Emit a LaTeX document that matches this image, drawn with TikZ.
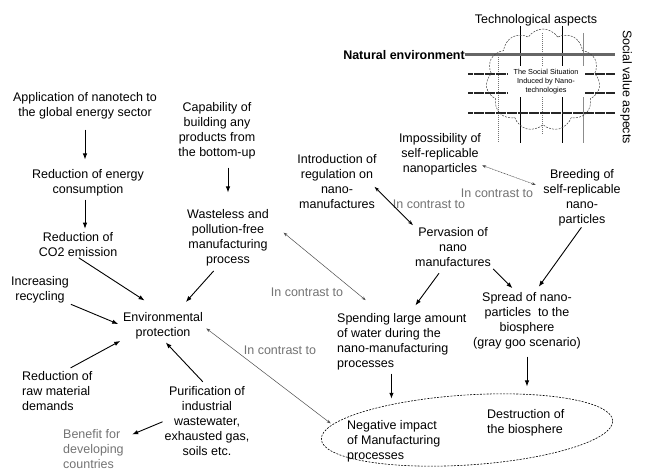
\documentclass[tikz,border=0pt]{standalone}
\usepackage{fontspec}
\setmainfont{Liberation Sans}
\usetikzlibrary{arrows.meta,shapes.symbols,shapes.geometric}

\begin{document}
\begin{tikzpicture}[x=1pt,y=-1pt,
  txt/.style={font=\fontsize{12.5}{15}\selectfont, align=center, inner sep=0pt},
  ltxt/.style={txt, align=left},
  note/.style={txt, text=black!55},
  tiny/.style={font=\fontsize{7.3}{9}\selectfont, align=center, inner sep=0pt},
  arr/.style={-{Latex[length=6pt,width=4.5pt]}, line width=0.9pt},
  cmp/.style={{Stealth[length=4pt,width=3pt]}-{Stealth[length=4pt,width=3pt]}, line width=0.5pt, draw=black!70},
  cmpdot/.style={cmp, dash pattern=on 1pt off 0.6pt},
  cmpsolid/.style={{Stealth[length=5pt,width=3.5pt]}-{Stealth[length=5pt,width=3.5pt]}, line width=0.8pt},
  band/.style={line width=1.1pt, draw=black!85, dash pattern=on 0.6pt off 0.5pt},
  axis/.style={line width=0.8pt},
  axisgray/.style={line width=0.8pt, draw=black!45},
  axisdot/.style={line width=0.6pt, draw=black!55, dash pattern=on 1pt off 1pt}]
\useasboundingbox (0,0) rectangle (645,470);

% ---- scheme of the social situation (top right) ----
\draw[axis] (520,26) -- (520,143);
\draw[axis] (562,26) -- (562,143);
\draw[axisgray] (583,33) -- (583,143);
\draw[axisdot] (542,33) -- (542,134);
\draw[axisdot] (498,55) -- (498,142);
\draw[band] (468,74) -- (615,74);
\draw[band] (468,93) -- (615,93);
\draw[band] (468,113) -- (615,113);
\node[txt, font=\bfseries\fontsize{12.5}{15}\selectfont, anchor=east] (natural) at (465,55) {Natural environment};
\draw[line width=3pt, draw=black!60] (natural.east) -- (615,55);
\node[cloud, cloud puffs=11, cloud puff arc=115, cloud ignores aspect, draw=black!75, line width=0.5pt,
      dash pattern=on 2pt off 1.2pt, minimum width=114pt, minimum height=102pt] (cloud) at (543,80) {};
\node[tiny, fill=white, minimum width=77pt, minimum height=31pt] (situation) at (546,82)
  {The Social Situation\\Induced by Nano-\\technologies};
\node[txt] (tech) at (536,20) {Technological aspects};
\node[txt, rotate=-90] (social) at (626,87) {Social value aspects};

% ---- statements ----
\node[txt] (app) at (85,106) {Application of nanotech to\\the global energy sector};
\node[txt] (energy) at (88,183) {Reduction of energy\\consumption};
\node[txt] (co2) at (78,245) {Reduction of\\CO2 emission};
\node[txt] (cap) at (217,131) {Capability of\\building any\\products from\\the bottom-up};
\node[txt] (waste) at (228,238) {Wasteless and\\pollution-free\\manufacturing\\process};
\node[txt] (intro) at (337,182) {Introduction of\\regulation on\\nano-\\manufactures};
\node[txt] (imposs) at (440,154) {Impossibility of\\self-replicable\\nanoparticles};
\node[txt] (breed) at (582,198) {Breeding of\\self-replicable\\nano-\\particles};
\node[txt] (perv) at (453,247) {Pervasion of\\nano\\manufactures};
\node[txt] (recyc) at (40,290) {Increasing\\recycling};
\node[txt] (env) at (163,326) {Environmental\\protection};
\node[ltxt, anchor=west] (spend) at (337,342) {Spending large amount\\of water during the\\nano-manufacturing\\processes};
\node[txt] (spread) at (527,321) {Spread of nano-\\particles\ \ to the\\biosphere\\(gray goo scenario)};
\node[ltxt, anchor=west] (raw) at (22,391) {Reduction of\\raw material\\demands};
\node[txt] (purif) at (207,421) {Purification of\\industrial\\wastewater,\\exhausted gas,\\soils etc.};
\node[note, align=left, anchor=west] (benefit) at (63,449) {Benefit for\\developing\\countries};

% ---- negative impacts ----
\node[ellipse, draw, line width=0.6pt, dash pattern=on 2pt off 1.3pt, minimum width=292pt,
      minimum height=70pt, rotate=3.7] (impact) at (467,430) {};
\node[ltxt, anchor=west] (neg) at (347,441) {Negative impact\\of Manufacturing\\processes};
\node[ltxt, anchor=west] (destr) at (487,423) {Destruction of\\the biosphere};

% ---- "in contrast to" labels ----
\node[note] (c1) at (497,193) {In contrast to};
\node[note] (c2) at (429,204) {In contrast to};
\node[note] (c3) at (307,292) {In contrast to};
\node[note] (c4) at (280,350) {In contrast to};

% ---- causal arrows ----
\draw[arr, shorten <=10pt, shorten >=10pt] (app) -- (app |- energy.north);
\draw[arr, shorten <=3pt, shorten >=4pt] (app |- energy.south) -- (app |- co2.north);
\draw[arr, shorten <=8pt, shorten >=17pt] (waste |- cap.south) -- (waste.north);
\draw[arr, shorten <=1pt, shorten >=22pt] (co2.south) -- (env.north);
\draw[arr, shorten <=6pt, shorten >=14pt] (waste.250) -- (env.45);
\draw[arr, shorten <=2pt, shorten >=5pt] (recyc.south east) -- (env.west);
\draw[arr, shorten <=7pt, shorten >=3pt] (raw.70) -- (env.south west);
\draw[arr, shorten <=6pt, shorten >=4pt] (purif.north) -- (env.south);
\draw[arr, shorten <=2pt, shorten >=9pt] (purif.west) -- (benefit.20);
\draw[arr, shorten <=8pt, shorten >=10pt] (perv.245) -- (spend.75);
\draw[arr, shorten <=3pt, shorten >=6pt] (perv.south east) -- (spread.110);
\draw[arr, shorten <=1pt, shorten >=7pt] (breed.south) -- (spread.75);
\draw[arr, shorten <=3pt, shorten >=-4pt] (spend.250) -- (spend.250 |- impact.north);
\draw[arr, shorten <=7pt, shorten >=23pt] (spread.south) -- (spread.south |- destr.north);

% ---- contrasting pairs ----
\draw[cmpdot, shorten <=1pt, shorten >=8pt] (imposs.-15) -- (breed.165);
\draw[cmpsolid, shorten <=-3pt, shorten >=3pt] (intro.-10) -- (perv.north west);
\draw[cmp, shorten <=19pt, shorten >=21pt] (waste.23) -- (spend.125);
\draw[cmp, shorten <=4pt, shorten >=2pt] (env.east) -- (impact.174);
\end{tikzpicture}
\end{document}
